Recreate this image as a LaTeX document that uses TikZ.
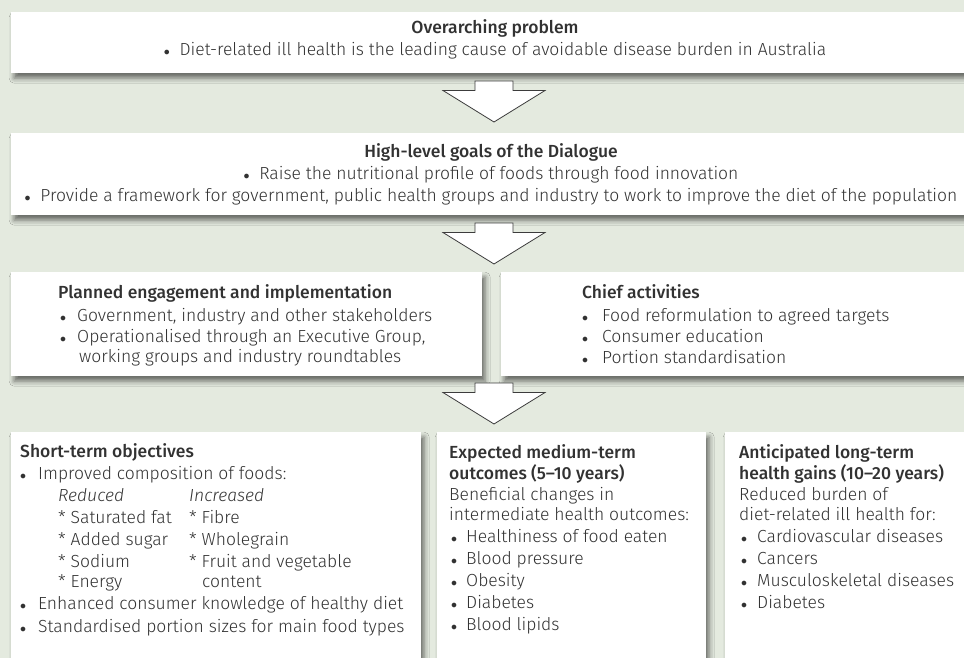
\documentclass[tikz,border=0pt]{standalone}
\usepackage{fontspec}
\setmainfont{Fira Sans}[UprightFont=* Light, BoldFont=* Medium, ItalicFont=* Light Italic]
\usetikzlibrary{shadows.blur,calc}

\definecolor{bgsage}{RGB}{228,234,223}
\definecolor{ink}{RGB}{50,50,50}
\definecolor{arrowline}{RGB}{60,60,60}

% a round list bullet
\newcommand{\dotmark}{{\fontsize{13}{13}\selectfont$\bullet$}}
% bullet set in a box of width #1, shifted right by #2
\newcommand{\bulat}[2]{\makebox[#1][l]{\hspace*{#2}\dotmark}}

\begin{document}
\begin{tikzpicture}[x=1pt,y=-1pt,
  panel/.style={fill=white, draw=none, inner sep=0pt, anchor=north west,
    blur shadow={shadow xshift=3pt, shadow yshift=-5pt, shadow blur radius=5pt, shadow opacity=55}},
  body/.style={inner sep=0pt, text=ink, font=\fontsize{17.5}{22}\selectfont},
  blockarrow/.style={draw=arrowline, fill=white, line width=0.8pt, line join=miter}]

% background
\fill[bgsage] (0,0) rectangle (964,658);
\useasboundingbox (0,0) rectangle (964,658);

% panels
\node[panel, minimum width=970pt, minimum height=61pt]  (problem)  at (11,12)  {};
\node[panel, minimum width=970pt, minimum height=82pt]  (goals)    at (11,133) {};
\node[panel, minimum width=471pt, minimum height=104pt] (engage)   at (11,272) {};
\node[panel, minimum width=474pt, minimum height=104pt] (activity) at (501,272) {};
\node[panel, minimum width=410pt, minimum height=240pt] (shortterm) at (11,432) {};
\node[panel, minimum width=269pt, minimum height=240pt] (mediumterm) at (437,432) {};
\node[panel, minimum width=260pt, minimum height=240pt] (longterm) at (725,432) {};

% block arrows between the tiers
\coordinate (a1) at (494,81);
\coordinate (a2) at (494,223);
\coordinate (a3) at (494,383);
\foreach \c in {a1,a2,a3}{
  \draw[blockarrow] ($(\c)+(-19,0)$) -- ($(\c)+(19,0)$) -- ($(\c)+(19,9.5)$) -- ($(\c)+(51,9.5)$)
    -- ($(\c)+(0,41)$) -- ($(\c)+(-51,9.5)$) -- ($(\c)+(-19,9.5)$) -- cycle;
}

% texts
\node[body, align=center, anchor=north] (problemtext) at (495,{33-15.4}) {%
  \strut{\bfseries Overarching problem}\\
  \dotmark\ \ Diet-related ill health is the leading cause of avoidable disease burden in Australia};

\node[body, align=center, anchor=north] (goalstext) at (491,{157-15.4}) {%
  \strut{\bfseries High-level goals of the Dialogue}\\
  \dotmark\ \ Raise the nutritional profile of foods through food innovation\\
  \dotmark\ \ Provide a framework for government, public health groups and industry to work to improve the diet of the population};

\node[body, align=left, anchor=north west] (engagetext) at (58,{298-15.4}) {%
  \strut{\bfseries Planned engagement and implementation}\\[1.5pt]
  \bulat{19pt}{2pt}Government, industry and other stakeholders\\[-1pt]
  \bulat{19pt}{2pt}Operationalised through an Executive Group,\\[-2pt]
  \hspace*{21pt}working groups and industry roundtables};

\node[body, align=left, anchor=north west] (activitytext) at (582,{298-15.4}) {%
  \strut{\bfseries Chief activities}\\[1.5pt]
  \bulat{20pt}{0pt}Food reformulation to agreed targets\\[-1pt]
  \bulat{20pt}{0pt}Consumer education\\[-1pt]
  \bulat{20pt}{0pt}Portion standardisation};

\node[body, align=left, anchor=north west] (shorttext) at (20,{457-15.4}) {%
  \strut{\bfseries Short-term objectives}\\
  \bulat{18pt}{0pt}Improved composition of foods:\\
  \hspace*{38pt}\makebox[131pt][l]{\itshape Reduced}{\itshape Increased}\\
  \hspace*{38pt}\makebox[131pt][l]{* Saturated fat}* Fibre\\
  \hspace*{38pt}\makebox[131pt][l]{* Added sugar}* Wholegrain\\
  \hspace*{38pt}\makebox[131pt][l]{* Sodium}* Fruit and vegetable\\[-2pt]
  \hspace*{38pt}\makebox[131pt][l]{* Energy}\hspace*{13pt}content\\
  \bulat{18pt}{0pt}Enhanced consumer knowledge of healthy diet\\[1pt]
  \bulat{18pt}{0pt}Standardised portion sizes for main food types};

\node[body, align=left, anchor=north west] (mediumtext) at (449,{458-15.4}) {%
  \strut{\bfseries Expected medium-term}\\[-1pt]
  {\bfseries outcomes (5--10 years)}\\[-1pt]
  Beneficial changes in\\[-1.5pt]
  intermediate health outcomes:\\
  \bulat{17pt}{2pt}Healthiness of food eaten\\
  \bulat{17pt}{2pt}Blood pressure\\
  \bulat{17pt}{2pt}Obesity\\
  \bulat{17pt}{2pt}Diabetes\\
  \bulat{17pt}{2pt}Blood lipids};

\node[body, align=left, anchor=north west] (longtext) at (739,{458-15.4}) {%
  \strut{\bfseries Anticipated long-term}\\[-1pt]
  {\bfseries health gains (10--20 years)}\\[-1pt]
  Reduced burden of\\[-1.5pt]
  diet-related ill health for:\\
  \bulat{18pt}{2pt}Cardiovascular diseases\\
  \bulat{18pt}{2pt}Cancers\\
  \bulat{18pt}{2pt}Musculoskeletal diseases\\
  \bulat{18pt}{2pt}Diabetes};

\end{tikzpicture}
\end{document}
